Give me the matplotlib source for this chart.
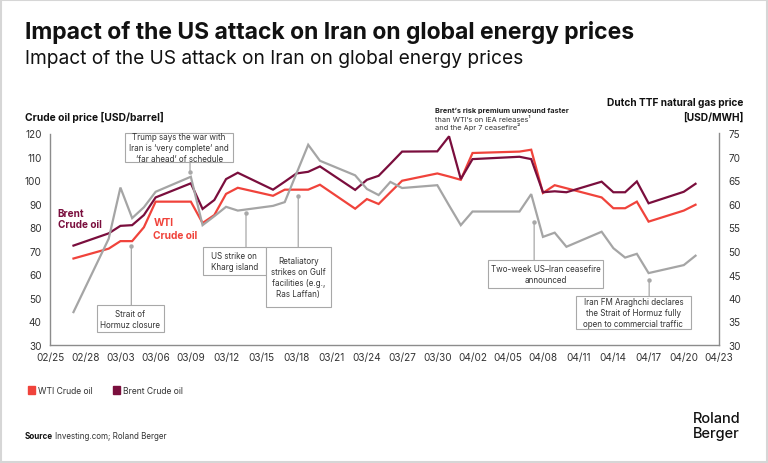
import matplotlib
matplotlib.use("Agg")
import matplotlib.pyplot as plt
import matplotlib.dates as mdates
import matplotlib.transforms as mtransforms
from matplotlib.patches import Rectangle
import pandas as pd

# ---------------- data ----------------
date_labels = ["02/27", "03/02", "03/03", "03/04", "03/05", "03/06", "03/09", "03/10",
               "03/11", "03/12", "03/13", "03/16", "03/17", "03/18", "03/19", "03/20",
               "03/23", "03/24", "03/25", "03/26", "03/27", "03/30", "03/31", "04/01",
               "04/02", "04/06", "04/07", "04/08", "04/09", "04/10", "04/13", "04/14",
               "04/15", "04/16", "04/17", "04/20", "04/21"]
brent = [72.3, 77.5, 80.7, 81.0, 85.3, 92.8, 98.8, 87.9, 91.7, 100.6, 103.3, 96.1,
         99.5, 103.0, 103.7, 106.0, 96.0, 100.3, 102.0, 107.1, 112.3, 112.4, 118.8,
         100.6, 109.1, 110.1, 109.1, 95.0, 95.4, 95.0, 99.5, 95.0, 95.0, 99.6, 90.3,
         95.2, 98.6]
wti = [66.8, 71.0, 74.2, 74.2, 80.1, 91.0, 91.0, 81.9, 85.3, 94.3, 96.9, 93.5,
       96.1, 96.1, 96.1, 98.2, 88.0, 92.1, 90.0, 95.0, 99.9, 103.0, 101.7, 100.3,
       111.7, 112.3, 113.1, 94.7, 98.0, 96.7, 92.8, 88.2, 88.2, 91.0, 82.5, 87.2, 89.7]
ttf_gas = [37.0, 52.6, 63.5, 57.0, 59.3, 62.6, 65.8, 55.5, 57.4, 59.4, 58.6, 59.6,
           60.4, 66.5, 72.6, 69.2, 66.1, 63.2, 61.9, 64.7, 63.4, 64.0, 59.7, 55.5,
           58.4, 58.4, 62.1, 53.0, 53.9, 50.9, 54.1, 50.6, 48.6, 49.4, 45.3, 47.0, 49.0]
year = 2026
x_start, x_end = "02/25", "04/23"
oil_ticks = list(range(30, 121, 10))
gas_ticks = list(range(30, 76, 5))

# annotations: (text, box [day_left, day_right, val_top, val_bottom], leader [day, tip, edge])
events = [
    ("Trump says the war with\nIran is \u2018very complete\u2019 and\n\u2018far ahead\u2019 of schedule",
     (6.39, 15.62, 120.2, 108.0), (11.93, 103.6, 108.0)),
    ("Strait of\nHormuz closure", (3.98, 9.71, 47.0, 35.5), (6.93, 72.1, 47.0)),
    ("US strike on\nKharg island", (13.01, 18.40, 71.6, 59.9), (16.7, 86.2, 71.6)),
    ("Retaliatory\nstrikes on Gulf\nfacilities (e.g.,\nRas Laffan)",
     (18.40, 23.92, 71.6, 46.0), (21.15, 93.3, 71.6)),
    ("Two-week US\u2013Iran ceasefire\nannounced", (37.34, 47.14, 66.3, 54.1), (41.25, 82.5, 66.3)),
    ("Iran FM Araghchi declares\nthe Strait of Hormuz fully\nopen to commercial traffic",
     (44.81, 54.59, 50.7, 36.8), (51.05, 57.7, 50.7)),
]

# ---------------- style ----------------
FONT = "Inter"
plt.rcParams["font.family"] = [FONT, "DejaVu Sans"]
C_WTI = "#F0433B"
C_BRENT = "#7A0E3D"
C_GAS = "#A5A5A5"
C_TXT = "#333333"
C_SPINE = "#8C8C8C"
C_BOX = "#A8A8A8"

W, H = 768, 464
fig = plt.figure(figsize=(W / 100, H / 100), dpi=100)
px = mtransforms.Affine2D().scale(1, -1).translate(0, H)  # top-left pixel coords

def fit(t, width_px):
    r = fig.canvas.get_renderer()
    w = t.get_window_extent(renderer=r).width
    t.set_fontsize(t.get_fontsize() * width_px / w)

# frame
fig.patches.append(Rectangle((1, 1), W - 2, H - 2, transform=px, fill=False,
                             edgecolor="#D6D6D6", lw=1.5))

ax = fig.add_axes([50 / W, (H - 346) / H, (719 - 50) / W, (346 - 134.5) / H])
ax2 = ax.twinx()

dates = pd.to_datetime([f"{year}/{d}" for d in date_labels])
xd = mdates.date2num(dates)
x0 = mdates.date2num(pd.Timestamp(f"{year}/{x_start}"))
x1 = mdates.date2num(pd.Timestamp(f"{year}/{x_end}"))

ax.plot(xd, wti, color=C_WTI, lw=1.6, solid_joinstyle="miter", zorder=3)
ax.plot(xd, brent, color=C_BRENT, lw=1.6, solid_joinstyle="miter", zorder=3)
ax2.plot(xd, ttf_gas, color=C_GAS, lw=1.6, solid_joinstyle="miter", zorder=2)

ax.set_xlim(x0, x1)
ax.set_ylim(30, 120)
ax2.set_ylim(30, 75)
ax.set_yticks(oil_ticks)
ax2.set_yticks(gas_ticks)
ticks = pd.date_range(pd.Timestamp(f"{year}/{x_start}"), pd.Timestamp(f"{year}/{x_end}"), freq="3D")
ax.set_xticks(mdates.date2num(ticks))
ax.set_xticklabels([t.strftime("%m/%d") for t in ticks])

for a in (ax, ax2):
    a.patch.set_visible(False)
    for s in a.spines.values():
        s.set_visible(False)
ax.spines["left"].set_visible(True)
ax.spines["bottom"].set_visible(True)
ax2.spines["right"].set_visible(True)
for s in (ax.spines["left"], ax.spines["bottom"], ax2.spines["right"]):
    s.set_color(C_SPINE)
    s.set_linewidth(1.0)
ax.tick_params(axis="both", length=0, labelsize=7.2, colors=C_TXT)
ax.tick_params(axis="y", pad=6)
ax.tick_params(axis="x", pad=5)
ax2.tick_params(axis="y", length=0, labelsize=7.2, colors=C_TXT, pad=7)

# annotations
for text, (dl, dr, vt, vb), (ld, tip, edge) in events:
    ax.add_patch(Rectangle((x0 + dl, vb), dr - dl, vt - vb, facecolor="white",
                           edgecolor=C_BOX, lw=0.8, zorder=5, clip_on=False))
    ax.text(x0 + (dl + dr) / 2, (vt + vb) / 2, text, ha="center", va="center",
            fontsize=5.8, color=C_TXT, linespacing=1.3, zorder=6)
    ax.annotate("", xy=(x0 + ld, tip), xytext=(x0 + ld, edge),
                arrowprops=dict(arrowstyle="-", color=C_BOX, lw=0.9, shrinkA=0, shrinkB=0),
                zorder=4)
    ax.plot([x0 + ld], [tip], "o", ms=2.2, color=C_BOX, zorder=4)

# series labels
b1 = fig.text(57.7, 216.7, "Brent", transform=px, color=C_BRENT, fontweight="bold", fontsize=8.3)
b2 = fig.text(57.7, 228.5, "Crude oil", transform=px, color=C_BRENT, fontweight="bold", fontsize=8.3)
fit(b2, 44); b1.set_fontsize(b2.get_fontsize())
t1 = fig.text(153.3, 225.7, "WTI", transform=px, color=C_WTI, fontweight="bold", fontsize=8.3)
t2 = fig.text(153.3, 239, "Crude oil", transform=px, color=C_WTI, fontweight="bold", fontsize=8.3)
fit(t2, 45); t1.set_fontsize(t2.get_fontsize())

# top note
n1 = fig.text(435, 113.5, "Brent\u2019s risk premium unwound faster", transform=px,
              fontweight="bold", fontsize=6, color="#222222")
fit(n1, 134)
fig.text(435, 122.3, "than WTI\u2019s on IEA releases\u00b9", transform=px, fontsize=n1.get_fontsize(), color=C_TXT)
fig.text(435, 130.5, "and the Apr 7 ceasefire\u00b2", transform=px, fontsize=n1.get_fontsize(), color=C_TXT)

# titles
t = fig.text(25, 39.3, "Impact of the US attack on Iran on global energy prices", transform=px,
             fontweight="bold", fontsize=16, color="#111111")
fit(t, 612)
t = fig.text(25, 64.3, "Impact of the US attack on Iran on global energy prices", transform=px,
             fontsize=12, color="#111111")
fit(t, 499)
t = fig.text(25, 120.7, "Crude oil price [USD/barrel]", transform=px, fontweight="bold",
             fontsize=7, color="#111111")
fit(t, 139)
t = fig.text(743, 106, "Dutch TTF natural gas price", transform=px, fontweight="bold",
             fontsize=7, color="#111111", ha="right")
fit(t, 138)
fig.text(743, 120.5, "[USD/MWH]", transform=px, fontweight="bold",
         fontsize=t.get_fontsize(), color="#111111", ha="right")

# legend
for xl, lab, col in [(27.7, "WTI Crude oil", C_WTI), (112.7, "Brent Crude oil", C_BRENT)]:
    fig.patches.append(Rectangle((xl, 387.3), 7.3, 7.3, transform=px, color=col))
    fig.text(xl + 10.6, 393.8, lab, transform=px, fontsize=6.2, color=C_TXT)

# footer
s = fig.text(25, 439.5, "Source", transform=px, fontweight="bold", fontsize=5.8, color="#111111")
r = fig.canvas.get_renderer()
bb = s.get_window_extent(renderer=r)
fig.text(bb.x1 + 2, H - 439.5, "Investing.com; Roland Berger", fontsize=5.8, color=C_TXT,
         transform=mtransforms.IdentityTransform())
fig.text(693, 423.5, "Roland", transform=px, fontsize=10.5, fontweight="medium", color="#111111")
fig.text(693, 438.5, "Berger", transform=px, fontsize=10.5, fontweight="medium", color="#111111")

fig.savefig("out.png", dpi=100)
